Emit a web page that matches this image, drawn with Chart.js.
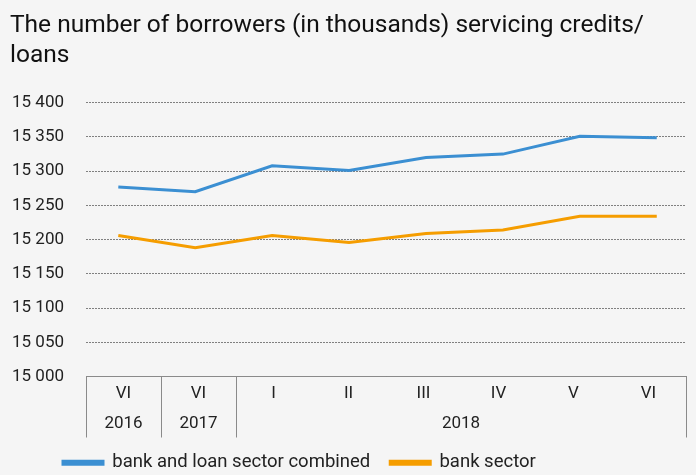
<!DOCTYPE html>
<html>
<head>
<meta charset="utf-8">
<script src="https://cdn.jsdelivr.net/npm/chart.js@4"></script>
<style>
  html, body { margin: 0; padding: 0; background: #f5f5f5; }
  #wrap { width: 696px; height: 475px; }
</style>
</head>
<body>
<div id="wrap"><canvas id="chart"></canvas></div>
<script>
const months = ['VI', 'VI', 'I', 'II', 'III', 'IV', 'V', 'VI'];
// year label, first and last month index it covers
const years = [['2016', 0, 0], ['2017', 1, 1], ['2018', 2, 7]];
const combined = [15277, 15270, 15308, 15301, 15320, 15325, 15351, 15349];
const bankSector = [15206, 15188, 15206, 15196, 15209, 15214, 15234, 15234];
const yTicks = [15000, 15050, 15100, 15150, 15200, 15250, 15300, 15350, 15400];

const BLUE = '#3b8fd2';
const ORANGE = '#f59d00';
const TEXT = '#222';
const FONT = 'Roboto, "Noto Sans", sans-serif';
const AXIS_H = 57;   // space the x axis takes in the layout
const BOX_H = 61;    // depth of the box drawn round the month/year rows
const LEGEND_SHIFT = 33;

const toPoints = arr => arr.map((v, i) => ({ x: i, y: v }));
const spaced = v => String(v).replace(/\B(?=(\d{3})+(?!\d))/g, ' ');

// box round the month labels with the year row underneath
const yearBox = {
    id: 'yearBox',
    afterLayout(chart) {
        if (chart.legend) chart.legend.left += LEGEND_SHIFT;
    },
    afterDraw(chart) {
        const c = chart.ctx;
        const xs = chart.scales.x;
        const w = (xs.right - xs.left) / months.length;
        const top = xs.top;
        const bottom = top + BOX_H;
        c.save();
        c.strokeStyle = '#8a8a8a';
        c.lineWidth = 1;
        const edges = [0];
        years.forEach(y => edges.push(y[2] + 1));
        edges.forEach(i => {
            const px = Math.round(xs.left + i * w) + 0.5;
            c.beginPath();
            c.moveTo(px, top);
            c.lineTo(px, bottom);
            c.stroke();
        });
        c.fillStyle = TEXT;
        c.font = '17px ' + FONT;
        c.textAlign = 'center';
        c.textBaseline = 'middle';
        years.forEach(y => {
            const mid = xs.left + ((y[1] + y[2] + 1) / 2) * w;
            c.fillText(y[0], mid, top + 47);
        });
        c.restore();
    }
};

new Chart(document.getElementById('chart'), {
    type: 'line',
    data: {
        datasets: [{
            label: 'bank and loan sector combined',
            data: toPoints(combined),
            borderColor: BLUE,
            backgroundColor: BLUE,
            borderWidth: 3,
            pointRadius: 0,
            tension: 0,
            xAxisID: 'xl'
        }, {
            label: 'bank sector',
            data: toPoints(bankSector),
            borderColor: ORANGE,
            backgroundColor: ORANGE,
            borderWidth: 3,
            pointRadius: 0,
            tension: 0,
            xAxisID: 'xl'
        }]
    },
    options: {
        responsive: true,
        maintainAspectRatio: false,
        animation: false,
        layout: {
            padding: { left: 10, right: 10, top: 0, bottom: -7 }
        },
        plugins: {
            title: {
                display: true,
                text: ['The number of borrowers (in thousands) servicing credits/', 'loans'],
                align: 'start',
                color: '#111',
                font: { family: FONT, size: 24.5, weight: 'normal', lineHeight: 1.22 },
                padding: { top: 11, bottom: 32 }
            },
            legend: {
                position: 'bottom',
                align: 'start',
                labels: {
                    boxWidth: 40,
                    boxHeight: 3,
                    padding: 20,
                    color: TEXT,
                    font: { family: FONT, size: 18.5 }
                }
            },
            tooltip: { enabled: false }
        },
        scales: {
            x: {
                type: 'category',
                labels: months,
                offset: true,
                grid: { display: false, drawTicks: false },
                border: { display: true, color: '#8a8a8a', width: 1 },
                ticks: {
                    color: TEXT,
                    font: { family: FONT, size: 17 },
                    padding: 7,
                    maxRotation: 0,
                    autoSkip: false
                },
                afterFit(s) { s.height = AXIS_H; }
            },
            xl: {
                type: 'linear',
                display: false,
                min: -0.42,
                max: 7.38
            },
            y: {
                min: yTicks[0],
                max: yTicks[yTicks.length - 1],
                afterBuildTicks(s) { s.ticks = yTicks.map(v => ({ value: v })); },
                grid: { color: '#808080', drawTicks: false, lineWidth: 1 },
                border: { display: false, dash: [2, 1] },
                ticks: {
                    color: TEXT,
                    font: { family: FONT, size: 17 },
                    padding: 22,
                    callback: v => spaced(v)
                },
                afterFit(s) { s.width = 76; }
            }
        }
    },
    plugins: [yearBox]
});
</script>
</body>
</html>
